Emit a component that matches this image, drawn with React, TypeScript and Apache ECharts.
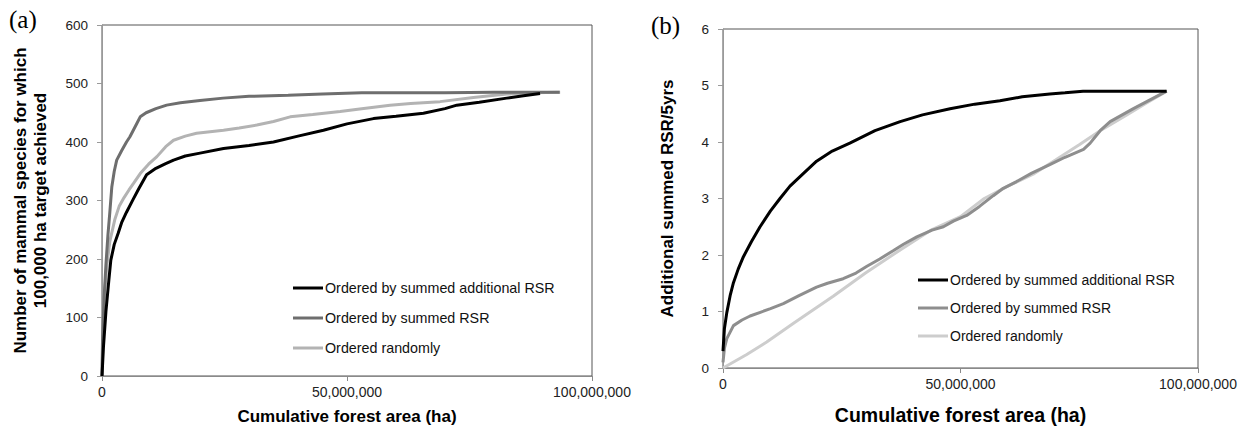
import React, { useEffect, useRef } from "react";
import * as echarts from "echarts";

// Panel (a): cumulative forest area (million ha) vs number of species with target achieved
const addRsrA_x = [0, 0.3, 0.8, 1.4, 1.8, 2.5, 3.3, 4.0, 5.0, 6.3, 7.5, 9.1, 11, 13, 14.6, 17, 20, 24.8, 30, 35, 40, 45.2, 50, 55.4, 60, 65.6, 70, 72.4, 77, 82.6, 86, 89.4];
const addRsrA_y = [0, 50, 110, 164, 198, 225, 244, 262, 280, 301, 320, 344, 355, 363, 369, 376, 381, 389, 394, 400, 410, 420, 431, 440, 444, 449, 457, 463, 468, 475, 479, 483];

const sumRsrA_x = [0, 0.1, 0.4, 0.8, 1.2, 1.6, 2.0, 2.5, 3.0, 4.0, 5.0, 5.7, 7.0, 7.8, 9.0, 11, 13.2, 16, 20, 24.7, 30, 38, 45, 53, 60, 70, 80, 85, 93.4];
const sumRsrA_y = [0, 60, 130, 190, 240, 280, 323, 350, 369, 385, 400, 409, 430, 443, 450, 457, 463, 467, 471, 475, 478, 480, 482, 484, 484, 484, 485, 485, 485];

const randomA_x = [0, 0.3, 0.6, 1.0, 1.6, 2.6, 3.5, 4.5, 5.5, 6.5, 7.8, 9.5, 11.2, 13, 14.6, 17, 19.3, 24.8, 28, 31.6, 35, 38.4, 43, 48.6, 53, 58.8, 63, 69, 75.8, 82.6, 88, 93.5];
const randomA_y = [0, 100, 150, 190, 230, 267, 290, 305, 318, 330, 346, 362, 375, 392, 403, 410, 415, 420, 424, 429, 435, 443, 447, 452, 457, 463, 466, 469, 476, 482, 484, 485];

// Panel (b): cumulative forest area (million ha) vs additional summed RSR/5yrs
const addRsrB_x = [0, 0.3, 0.8, 1.5, 2.2, 3.2, 4.3, 6, 7.8, 10, 12, 14.1, 17, 19.7, 23, 26.7, 32, 37.3, 42, 47.8, 53, 58.3, 63, 68.8, 72, 75.8, 80, 93.4];
const addRsrB_y = [0.3, 0.7, 0.98, 1.28, 1.51, 1.75, 1.97, 2.24, 2.5, 2.78, 3.0, 3.22, 3.45, 3.66, 3.84, 3.98, 4.2, 4.36, 4.48, 4.59, 4.67, 4.73, 4.8, 4.85, 4.87, 4.9, 4.9, 4.9];

const sumRsrB_x = [0, 0.3, 0.8, 2.2, 4, 5.7, 8, 10, 12.7, 16, 19.7, 22, 25.3, 28, 30.3, 33, 35.9, 38, 40.8, 44, 46.4, 48.5, 51.3, 54, 56.9, 59, 61.8, 65, 68.8, 72, 75.9, 77.3, 79.4, 81.5, 86.4, 90, 93.4];
const sumRsrB_y = [0.1, 0.35, 0.52, 0.75, 0.85, 0.92, 0.99, 1.05, 1.14, 1.28, 1.43, 1.5, 1.58, 1.68, 1.8, 1.93, 2.08, 2.19, 2.32, 2.44, 2.5, 2.6, 2.7, 2.86, 3.05, 3.18, 3.3, 3.45, 3.6, 3.73, 3.87, 3.98, 4.2, 4.36, 4.59, 4.75, 4.9];

const randomB_x = [0, 5, 9.2, 15, 23.2, 30, 37.3, 44, 50, 55, 60, 65.3, 70, 75, 79.4, 85, 89, 93.4];
const randomB_y = [0, 0.24, 0.46, 0.8, 1.27, 1.68, 2.09, 2.45, 2.68, 3.0, 3.22, 3.43, 3.68, 3.95, 4.2, 4.48, 4.68, 4.9];

const seriesNames = ["Ordered by summed additional RSR", "Ordered by summed RSR", "Ordered randomly"];

const MILLION = 1000000;
const zip = (xs: number[], ys: number[]) => xs.map((x, i) => [x * MILLION, ys[i]]);
const fmt = (v: number) => String(Math.round(v)).replace(/\B(?=(\d{3})+(?!\d))/g, ",");

const COLORS_A = ["#000000", "#6e6e6e", "#b3b3b3"];
const COLORS_B = ["#000000", "#8e8e8e", "#cdcdcd"];

const FONT = "Liberation Sans, Arial, sans-serif";

export default function App() {
  const ref = useRef<HTMLDivElement>(null);
  useEffect(() => {
    document.body.style.margin = "0";
    if (!ref.current) return;
    const chart = echarts.init(ref.current, null, { renderer: "svg" });

    const xAxisCommon = (gridIndex: number, nameSize: number, nameGap: number) => ({
      type: "value",
      gridIndex,
      min: 0,
      max: 100000000,
      interval: 50000000,
      name: "Cumulative forest area (ha)",
      nameLocation: "middle",
      nameGap,
      nameTextStyle: { fontFamily: FONT, fontSize: nameSize, fontWeight: "bold", color: "#000" },
      axisLine: { show: true, lineStyle: { color: "#8a8a8a", width: 1 } },
      axisTick: { show: true, length: 5, lineStyle: { color: "#8a8a8a" } },
      axisLabel: { fontFamily: FONT, fontSize: 14, color: "#222", margin: 9, formatter: (v: number) => fmt(v) },
      splitLine: { show: false },
    });

    const mk = (name: string, data: number[][], color: string, xi: number) => ({
      type: "line",
      name,
      xAxisIndex: xi,
      yAxisIndex: xi,
      data,
      showSymbol: false,
      symbol: "none",
      lineStyle: { color, width: 3 },
      itemStyle: { color },
      z: 3,
    });

    const legendCommon = (fontSize: number) => ({
      orient: "vertical",
      itemWidth: 30,
      itemHeight: 3,
      icon: "rect",
      padding: 0,
      selectedMode: false,
      textStyle: { fontFamily: FONT, fontSize, color: "#111", lineHeight: 16, padding: [0, 0, 0, -3] },
    });

    chart.setOption({
      animation: false,
      backgroundColor: "#ffffff",
      grid: [
        { left: 102, top: 25, width: 490, height: 351, show: true, borderColor: "#555", borderWidth: 1, backgroundColor: "transparent" },
        { left: 723, top: 29, width: 475, height: 344, show: true, borderColor: "#555", borderWidth: 1, backgroundColor: "transparent" },
      ],
      xAxis: [xAxisCommon(0, 17, 32), xAxisCommon(1, 19.5, 37)],
      yAxis: [
        {
          type: "value",
          gridIndex: 0,
          min: 0,
          max: 600,
          interval: 100,
          name: "Number of mammal species for which\n100,000 ha target achieved",
          nameLocation: "middle",
          nameGap: 52,
          nameTextStyle: { fontFamily: FONT, fontSize: 17, fontWeight: "bold", color: "#000", lineHeight: 20 },
          axisLine: { show: true, lineStyle: { color: "#9a9a9a", width: 1 } },
          axisTick: { show: true, length: 5, lineStyle: { color: "#9a9a9a" } },
          axisLabel: { fontFamily: FONT, fontSize: 13.5, color: "#222", margin: 14 },
          splitLine: { show: false },
        },
        {
          type: "value",
          gridIndex: 1,
          min: 0,
          max: 6,
          interval: 1,
          name: "Additional summed RSR/5yrs",
          nameLocation: "middle",
          nameGap: 47,
          nameTextStyle: { fontFamily: FONT, fontSize: 17, fontWeight: "bold", color: "#000" },
          axisLine: { show: true, lineStyle: { color: "#9a9a9a", width: 1 } },
          axisTick: { show: true, length: 5, lineStyle: { color: "#9a9a9a" } },
          axisLabel: { fontFamily: FONT, fontSize: 13.5, color: "#222", margin: 14 },
          splitLine: { show: false },
        },
      ],
      legend: [
        {
          ...legendCommon(14.3),
          left: 293,
          top: 280,
          itemGap: 14,
          data: seriesNames.map((n, i) => ({ name: n, itemStyle: { color: COLORS_A[i] } })),
        },
        {
          ...legendCommon(14),
          left: 918,
          top: 272,
          itemGap: 12,
          data: seriesNames.map((n, i) => ({ name: n, itemStyle: { color: COLORS_B[i] } })),
        },
      ],
      graphic: [
        { type: "text", left: 9, top: 7, style: { text: "(a)", font: "25px 'Liberation Serif', serif", fill: "#000" } },
        { type: "text", left: 651, top: 13, style: { text: "(b)", font: "25px 'Liberation Serif', serif", fill: "#000" } },
      ],
      series: [
        mk(seriesNames[2], zip(randomA_x, randomA_y), COLORS_A[2], 0),
        mk(seriesNames[1], zip(sumRsrA_x, sumRsrA_y), COLORS_A[1], 0),
        mk(seriesNames[0], zip(addRsrA_x, addRsrA_y), COLORS_A[0], 0),
        mk(seriesNames[2], zip(randomB_x, randomB_y), COLORS_B[2], 1),
        mk(seriesNames[1], zip(sumRsrB_x, sumRsrB_y), COLORS_B[1], 1),
        mk(seriesNames[0], zip(addRsrB_x, addRsrB_y), COLORS_B[0], 1),
      ],
    });
    return () => chart.dispose();
  }, []);
  return <div ref={ref} style={{ width: 1252, height: 430 }} />;
}
